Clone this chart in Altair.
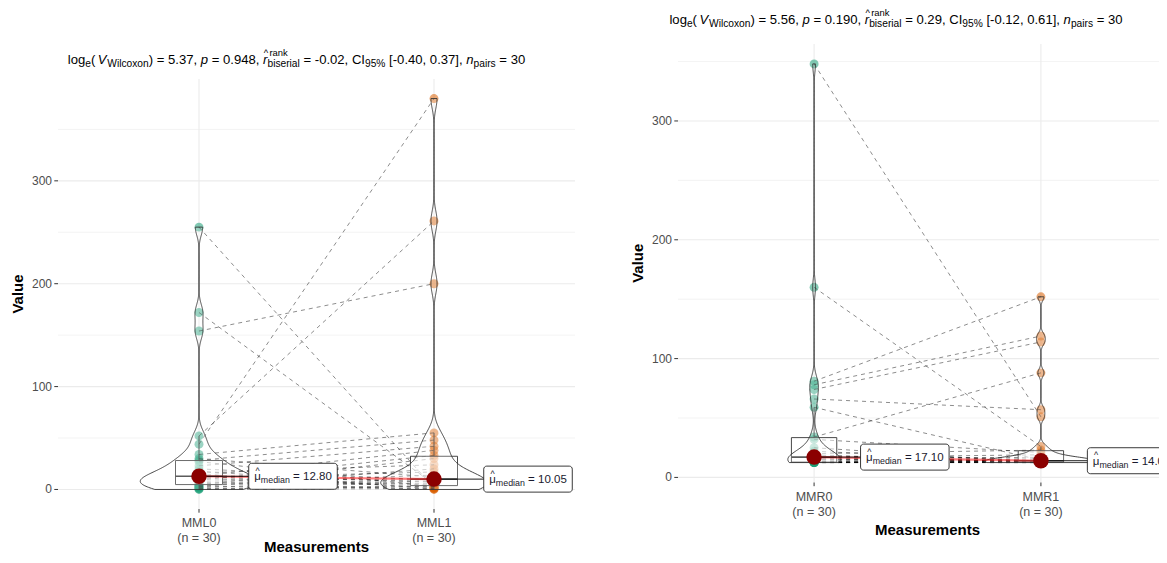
import numpy as np
import pandas as pd
import altair as alt

# ---------------- data ----------------
left_conditions = ["MML0", "MML1"]
right_conditions = ["MMR0", "MMR1"]

# paired values, same index = same subject
mml0 = [255, 172, 154, 52, 44, 34, 30, 28.5, 27, 23, 20, 18, 16, 14, 13.1,
        12.5, 11, 10.5, 9, 8, 7, 5.5, 4.5, 4, 3, 2.5, 2, 1, 0.5, 0]
mml1 = [1.5, 5, 200, 261, 380, 55, 12, 48, 3, 42, 9, 0.5, 24, 7, 38,
        2, 17, 4.5, 33, 10.5, 0, 14, 30, 9.6, 20, 6, 8, 2.5, 3.5, 1]
mmr0 = [348, 160, 81, 78, 74, 34, 66, 59, 32, 25, 22, 20, 19, 18, 17.2,
        17, 16, 15.5, 15, 14, 13.5, 13, 12.8, 12.7, 12.6, 12.5, 12.5, 12.5, 12.5, 12.5]
mmr1 = [51, 26, 152, 119, 114, 88, 57, 14.5, 21, 12.5, 13.6, 23, 12.5, 16, 13.2,
        19, 12.5, 14, 17, 13.9, 15, 12.8, 14.1, 12.5, 13.4, 12.5, 13.8, 12.6, 13, 12.5]

left_stats = {"V": "5.37", "p": "0.948", "r": "-0.02", "ci": "[-0.40, 0.37]", "n": "30"}
right_stats = {"V": "5.56", "p": "0.190", "r": "0.29", "ci": "[-0.12, 0.61]", "n": "30"}

y_major = [0, 100, 200, 300]
y_minor = [50, 150, 250, 350]
group_colors = ["#1B9E77", "#D95F02"]

FONT = "Liberation Sans"

# Arial / Liberation Sans advance widths (1/1000 em)
W = {' ': 278, '(': 333, ')': 333, ',': 278, '-': 333, '.': 278, '%': 889, '=': 584,
     '[': 278, ']': 278, '^': 469, 'C': 722, 'I': 278, 'V': 667, 'W': 944, 'M': 833,
     'L': 556, 'R': 722, 'a': 556, 'b': 556, 'c': 500, 'd': 556, 'e': 556, 'g': 556,
     'i': 222, 'k': 500, 'l': 222, 'm': 833, 'n': 556, 'o': 556, 'p': 556, 'r': 333,
     's': 500, 'x': 500, 'μ': 576}


def tw(s, fs):
    return sum(W.get(c, 556) for c in s) * fs / 1000.0


def bw_nrd0(v):
    v = np.asarray(v, float)
    sd = v.std(ddof=1)
    q75, q25 = np.percentile(v, [75, 25])
    lo = min(sd, (q75 - q25) / 1.34)
    return 0.9 * lo * len(v) ** (-0.2)


def kde_peak(v, bw):
    v = np.asarray(v, float)
    g = np.linspace(v.min(), v.max(), 2000)
    d = np.exp(-0.5 * ((g[:, None] - v[None, :]) / bw) ** 2).sum(1) / (len(v) * bw * np.sqrt(2 * np.pi))
    return d.max()


class Piecer:
    def __init__(self):
        self.x = 0.0
        self.items = []

    def put(self, txt, fs, italic, dy):
        lead = len(txt) - len(txt.lstrip(' '))
        core = txt.strip(' ')
        self.items.append((core, fs, italic, self.x + tw(' ' * lead, fs), dy))
        w = tw(txt, fs)
        self.x += w
        return w

    def place(self, txt, fs, italic, xo, dy):
        self.items.append((txt, fs, italic, xo, dy))


def subtitle_items(stats, S):
    sub = S * 0.78
    sup = S * 0.72
    P = Piecer()
    P.put('log', S, False, 0)
    P.put('e', sub, False, 3.5)
    P.put('(', S, False, 0)
    P.x += 2.5
    P.put('V', S, True, 0)
    P.x += 0.8
    P.put('Wilcoxon', sub, False, 3.5)
    P.put(') = ' + stats['V'] + ', ', S, False, 0)
    P.put('p', S, True, 0)
    P.put(' = ' + stats['p'] + ', ', S, False, 0)
    rx = P.x
    P.put('r', S, True, 0)
    after = P.x
    P.place('^', sup, False, rx + 0.6, -8)
    P.place('rank', sup, False, after + 2.0, -8)
    P.place('biserial', sub, False, after, 3.5)
    P.x = after + max(tw('biserial', sub), 2.0 + tw('rank', sup))
    P.put(' = ' + stats['r'] + ', CI', S, False, 0)
    P.put('95%', sub, False, 3.5)
    P.put(' ' + stats['ci'] + ', ', S, False, 0)
    P.put('n', S, True, 0)
    P.put('pairs', sub, False, 3.5)
    P.put(' = ' + stats['n'], S, False, 0)
    return P.items, P.x


def label_items(med_text, S):
    sub = S * 0.77
    P = Piecer()
    mx = P.x
    P.put('μ', S, False, 0)
    P.place('^', sub, False, mx + (tw('μ', S) - tw('^', sub)) / 2, -6.5)
    P.put('median', sub, False, 3)
    P.put(' = ' + med_text, S, False, 0)
    return P.items, P.x


CHART_W, CHART_H = 1151, 547


def panel(conds, a, b, stats, xrange, yrange, title_cx, title_cy):
    n = len(a)
    df = pd.DataFrame({
        'id': list(range(n)) * 2,
        'cond': [conds[0]] * n + [conds[1]] * n,
        'pos': [1] * n + [2] * n,
        'value': list(a) + list(b),
    })
    allv = np.array(list(a) + list(b), float)
    lo, hi = allv.min(), allv.max()
    span = hi - lo
    ydom = [lo - 0.05 * span, hi + 0.05 * span]
    xdom = [0.4, 2.6]
    xs = alt.Scale(domain=xdom, range=list(xrange), nice=False, zero=False)
    ys = alt.Scale(domain=ydom, range=list(yrange), nice=False, zero=False)
    pxu = (xrange[1] - xrange[0]) / (xdom[1] - xdom[0])
    pyu = (yrange[0] - yrange[1]) / (ydom[1] - ydom[0])

    def X(f):
        return alt.X(f, type='quantitative', scale=xs, axis=None)

    def Y(f):
        return alt.Y(f, type='quantitative', scale=ys, axis=None)

    def px2x(px):
        return xdom[0] + (px - xrange[0]) / pxu

    def px2y(py):
        return ydom[0] + (yrange[0] - py) / pyu

    layers = []

    # ---- grid ----
    gmin = pd.DataFrame({'v': [v for v in y_minor if ydom[0] <= v <= ydom[1]]})
    gmin['x0'] = xdom[0]
    gmin['x1'] = xdom[1]
    gmaj = pd.DataFrame({'v': [v for v in y_major if ydom[0] <= v <= ydom[1]]})
    gmaj['x0'] = xdom[0]
    gmaj['x1'] = xdom[1]
    gmaj['lab'] = [str(v) for v in gmaj['v']]
    gmaj['xt'] = px2x(xrange[0] - 3.7)
    layers.append(alt.Chart(gmin).mark_rule(color='#EBEBEB', strokeWidth=0.6)
                  .encode(x=X('x0'), x2='x1', y=Y('v')))
    layers.append(alt.Chart(gmaj).mark_rule(color='#EBEBEB', strokeWidth=1.1)
                  .encode(x=X('x0'), x2='x1', y=Y('v')))
    gx = pd.DataFrame({'pos': [1, 2], 'y0': ydom[0], 'y1': ydom[1],
                       'yt': px2y(yrange[0] + 3.7),
                       'lab': [f"{c}\n(n = {n})" for c in conds]})
    layers.append(alt.Chart(gx).mark_rule(color='#EBEBEB', strokeWidth=1.1)
                  .encode(x=X('pos'), y=Y('y0'), y2='y1'))

    # ---- raw points ----
    layers.append(alt.Chart(df).mark_circle(size=80, opacity=0.55)
                  .encode(x=X('pos'), y=Y('value'),
                          color=alt.Color('cond:N', scale=alt.Scale(domain=conds, range=group_colors),
                                          legend=None)))
    # ---- paired paths ----
    layers.append(alt.Chart(df).mark_line(color='black', opacity=0.5, strokeWidth=0.9, strokeDash=[4, 4])
                  .encode(x=X('pos'), y=Y('value'), detail='id:N', order='pos:Q'))

    # ---- boxplots ----
    box = (alt.Chart(df)
           .transform_joinaggregate(q1='q1(value)', q3='q3(value)', med='median(value)', groupby=['cond'])
           .transform_calculate(lof='datum.q1 - 1.5 * (datum.q3 - datum.q1)',
                                hif='datum.q3 + 1.5 * (datum.q3 - datum.q1)')
           .transform_filter('datum.value >= datum.lof && datum.value <= datum.hif')
           .transform_aggregate(wlo='min(value)', whi='max(value)', q1='min(q1)', q3='min(q3)',
                                med='min(med)', groupby=['cond', 'pos'])
           .transform_calculate(xl='datum.pos - 0.1', xr='datum.pos + 0.1'))
    layers.append(box.mark_rule(color='#333333', strokeWidth=0.9).encode(x=X('pos'), y=Y('q3'), y2='whi'))
    layers.append(box.mark_rule(color='#333333', strokeWidth=0.9).encode(x=X('pos'), y=Y('wlo'), y2='q1'))
    layers.append(box.mark_rect(fill='white', fillOpacity=0.5, stroke='#333333', strokeWidth=0.9)
                  .encode(x=X('xl'), x2='xr', y=Y('q1'), y2='q3'))
    layers.append(box.mark_rule(color='#333333', strokeWidth=1.6)
                  .encode(x=X('xl'), x2='xr', y=Y('med')))

    # ---- violins (scale = "area", width 0.5) ----
    bws = [bw_nrd0(a), bw_nrd0(b)]
    peak = max(kde_peak(a, bws[0]), kde_peak(b, bws[1]))
    k = 0.25 / peak
    for i, (vals, c) in enumerate([(a, conds[0]), (b, conds[1])]):
        pos = i + 1
        layers.append(
            alt.Chart(df)
            .transform_filter(alt.datum.cond == c)
            .transform_density('value', as_=['value', 'density'], bandwidth=float(bws[i]),
                               extent=[float(min(vals)), float(max(vals))], steps=500)
            .transform_calculate(xl=f'{pos} - datum.density * {k}', xr=f'{pos} + datum.density * {k}')
            .mark_area(orient='horizontal', fill='white', fillOpacity=0.2, stroke='#333333',
                       strokeWidth=0.9)
            .encode(y=Y('value'), x=X('xl'), x2='xr')
        )

    # ---- centrality ----
    med = (alt.Chart(df).transform_aggregate(med='median(value)', groupby=['cond', 'pos'])
           .transform_calculate(lx='datum.pos + 0.4'))
    layers.append(med.mark_line(color='red', opacity=0.5, strokeWidth=2.1)
                  .encode(x=X('pos'), y=Y('med'), order='pos:Q'))
    layers.append(med.mark_rule(color='black', strokeWidth=0.9)
                  .encode(x=X('pos'), x2='lx', y=Y('med')))
    layers.append(med.mark_circle(color='#8B0000', size=240, opacity=1)
                  .encode(x=X('pos'), y=Y('med')))

    # ---- median labels ----
    LS = 11.5
    rect_rows, text_rows = [], []
    for i, vals in enumerate([a, b]):
        m = float(np.median(vals))
        items, total = label_items(f"{m:.2f}", LS)
        cx = i + 1 + 0.4
        hw = (total / 2 + 5.5) / pxu
        hh = 13.0 / pyu
        rect_rows.append({'x0': cx - hw, 'x1': cx + hw, 'y0': m - hh, 'y1': m + hh})
        for (t, fs, it, xo, dy) in items:
            text_rows.append({'t': t, 'fs': fs,
                              'x': cx + (xo - total / 2) / pxu,
                              'y': m - (4.0 + dy) / pyu})
    layers.append(alt.Chart(pd.DataFrame(rect_rows))
                  .mark_rect(fill='white', stroke='#222222', strokeWidth=0.9, cornerRadius=3)
                  .encode(x=X('x0'), x2='x1', y=Y('y0'), y2='y1'))
    layers.append(alt.Chart(pd.DataFrame(text_rows))
                  .mark_text(align='left', baseline='alphabetic', font=FONT, color='#1a1a2e')
                  .encode(x=X('x'), y=Y('y'), text='t:N', size=alt.Size('fs:Q', scale=None)))

    # ---- axes ----
    layers.append(alt.Chart(gmaj).mark_rule(color='#333333', strokeWidth=1)
                  .encode(x=X('xt'), x2='x0', y=Y('v')))
    layers.append(alt.Chart(gmaj).mark_text(align='right', baseline='middle', dx=-6, font=FONT,
                                            fontSize=12, color='#4D4D4D')
                  .encode(x=X('x0'), y=Y('v'), text='lab:N'))
    layers.append(alt.Chart(gx).mark_rule(color='#333333', strokeWidth=1)
                  .encode(x=X('pos'), y=Y('y0'), y2='yt'))
    layers.append(alt.Chart(gx).mark_text(align='center', baseline='top', dy=8, lineBreak='\n',
                                          lineHeight=15, font=FONT, fontSize=12.5, color='#4D4D4D')
                  .encode(x=X('pos'), y=Y('y0'), text='lab:N'))
    title_dy = min(47, CHART_H - 8 - yrange[0])
    ttl = pd.DataFrame({'t': ['Measurements'], 'x': [(xdom[0] + xdom[1]) / 2], 'y': [ydom[0]]})
    layers.append(alt.Chart(ttl).mark_text(align='center', baseline='middle', dy=title_dy, font=FONT,
                                           fontSize=15, fontWeight='bold', color='black')
                  .encode(x=X('x'), y=Y('y'), text='t:N'))
    vtl = pd.DataFrame({'t': ['Value'], 'x': [px2x(xrange[0] - 40)], 'y': [(ydom[0] + ydom[1]) / 2]})
    layers.append(alt.Chart(vtl).mark_text(align='center', baseline='middle', angle=270, font=FONT,
                                           fontSize=15, fontWeight='bold', color='black')
                  .encode(x=X('x'), y=Y('y'), text='t:N'))

    # ---- subtitle ----
    S = 13.1
    items, total = subtitle_items(stats, S)
    start = title_cx - total / 2
    base = title_cy + 4.5
    rows_n, rows_i = [], []
    for (t, fs, it, xo, dy) in items:
        r = {'t': t, 'fs': fs, 'x': px2x(start + xo), 'y': px2y(base + dy)}
        (rows_i if it else rows_n).append(r)
    layers.append(alt.Chart(pd.DataFrame(rows_n))
                  .mark_text(align='left', baseline='alphabetic', font=FONT, color='black')
                  .encode(x=X('x'), y=Y('y'), text='t:N', size=alt.Size('fs:Q', scale=None)))
    layers.append(alt.Chart(pd.DataFrame(rows_i))
                  .mark_text(align='left', baseline='alphabetic', font=FONT, fontStyle='italic',
                             color='black')
                  .encode(x=X('x'), y=Y('y'), text='t:N', size=alt.Size('fs:Q', scale=None)))
    return layers


left_layers = panel(left_conditions, mml0, mml1, left_stats, (50, 567), (501, 71), 288.5, 51)
right_layers = panel(right_conditions, mmr0, mmr1, right_stats, (670, 1169), (474.5, 36), 888, 11)

chart = (alt.layer(*left_layers, *right_layers)
         .resolve_scale(x='independent', y='independent', color='independent')
         .properties(width=CHART_W, height=CHART_H, padding=0,
                     autosize=alt.AutoSizeParams(type='none'))
         .configure_view(stroke=None))

chart.save("out.html", embed_options={"renderer": "svg", "actions": False})
